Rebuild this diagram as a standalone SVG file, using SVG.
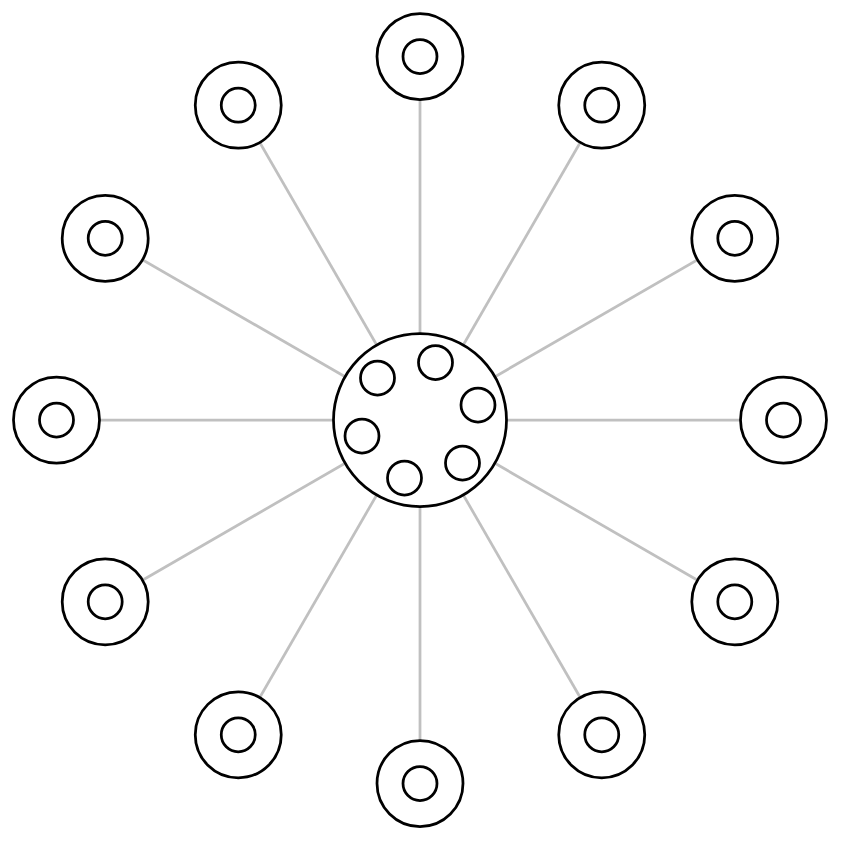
<svg xmlns="http://www.w3.org/2000/svg" width="844" height="844" viewBox="0 0 844 844">
<style>
.edge{stroke:#c0c0c0;stroke-width:2.75;fill:none}
.ring{fill:#fff;stroke:#000;stroke-width:2.75}
</style>
<rect width="844" height="844" fill="#fff"/>
<g id="connectors">
<line class="edge" x1="420" y1="420" x2="420" y2="56.5"/>
<line class="edge" x1="420" y1="420" x2="601.75" y2="105.2"/>
<line class="edge" x1="420" y1="420" x2="734.8" y2="238.25"/>
<line class="edge" x1="420" y1="420" x2="783.5" y2="420"/>
<line class="edge" x1="420" y1="420" x2="734.8" y2="601.75"/>
<line class="edge" x1="420" y1="420" x2="601.75" y2="734.8"/>
<line class="edge" x1="420" y1="420" x2="420" y2="783.5"/>
<line class="edge" x1="420" y1="420" x2="238.25" y2="734.8"/>
<line class="edge" x1="420" y1="420" x2="105.2" y2="601.75"/>
<line class="edge" x1="420" y1="420" x2="56.5" y2="420"/>
<line class="edge" x1="420" y1="420" x2="105.2" y2="238.25"/>
<line class="edge" x1="420" y1="420" x2="238.25" y2="105.2"/>
</g>
<g id="hub">
<circle class="ring" cx="420" cy="420" r="86.5"/>
<circle class="ring" cx="435.5" cy="362.5" r="17"/>
<circle class="ring" cx="478" cy="405" r="17"/>
<circle class="ring" cx="462.5" cy="463" r="17"/>
<circle class="ring" cx="404.5" cy="478" r="17"/>
<circle class="ring" cx="362" cy="436" r="17"/>
<circle class="ring" cx="377.5" cy="378" r="17"/>
</g>
<g id="n0"><circle class="ring" cx="420" cy="56.5" r="43"/><circle class="ring" cx="420" cy="56.5" r="17"/></g>
<g id="n1"><circle class="ring" cx="601.75" cy="105.2" r="43"/><circle class="ring" cx="601.75" cy="105.2" r="17"/></g>
<g id="n2"><circle class="ring" cx="734.8" cy="238.25" r="43"/><circle class="ring" cx="734.8" cy="238.25" r="17"/></g>
<g id="n3"><circle class="ring" cx="783.5" cy="420" r="43"/><circle class="ring" cx="783.5" cy="420" r="17"/></g>
<g id="n4"><circle class="ring" cx="734.8" cy="601.75" r="43"/><circle class="ring" cx="734.8" cy="601.75" r="17"/></g>
<g id="n5"><circle class="ring" cx="601.75" cy="734.8" r="43"/><circle class="ring" cx="601.75" cy="734.8" r="17"/></g>
<g id="n6"><circle class="ring" cx="420" cy="783.5" r="43"/><circle class="ring" cx="420" cy="783.5" r="17"/></g>
<g id="n7"><circle class="ring" cx="238.25" cy="734.8" r="43"/><circle class="ring" cx="238.25" cy="734.8" r="17"/></g>
<g id="n8"><circle class="ring" cx="105.2" cy="601.75" r="43"/><circle class="ring" cx="105.2" cy="601.75" r="17"/></g>
<g id="n9"><circle class="ring" cx="56.5" cy="420" r="43"/><circle class="ring" cx="56.5" cy="420" r="17"/></g>
<g id="n10"><circle class="ring" cx="105.2" cy="238.25" r="43"/><circle class="ring" cx="105.2" cy="238.25" r="17"/></g>
<g id="n11"><circle class="ring" cx="238.25" cy="105.2" r="43"/><circle class="ring" cx="238.25" cy="105.2" r="17"/></g>
</svg>
